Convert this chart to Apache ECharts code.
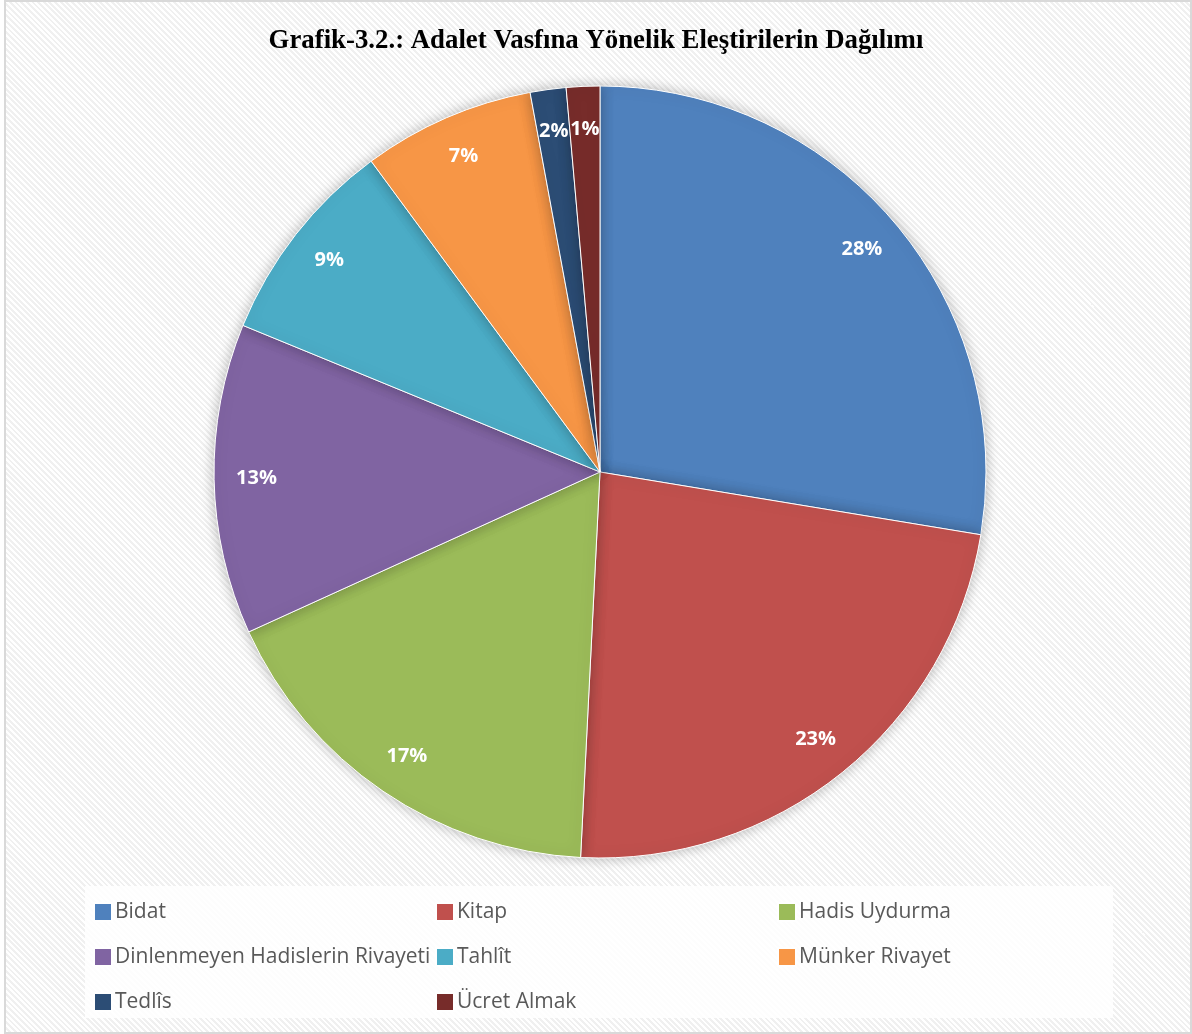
<!DOCTYPE html>
<html>
<head>
<meta charset="utf-8">
<script src="https://cdn.jsdelivr.net/npm/echarts@6/dist/echarts.min.js"></script>
<style>
  html, body { margin: 0; padding: 0; background: #ffffff; }
  #bg {
    position: absolute; left: 4px; top: 0px; width: 1184px; height: 1030px;
    border: 2px solid #d9d9d9;
    background: repeating-linear-gradient(45deg, #ffffff 0px, #ffffff 2px, #f0f0f0 2px, #f0f0f0 4px);
  }
  #chart { position: absolute; left: 0; top: 0; width: 1192px; height: 1034px; }
</style>
</head>
<body>
<div id="bg"></div>
<div id="chart"></div>
<script>
const categories = ['Bidat', 'Kitap', 'Hadis Uydurma', 'Dinlenmeyen Hadislerin Rivayeti', 'Tahlît', 'Münker Rivayet', 'Tedlîs', 'Ücret Almak'];
const values = [27.6, 23.2, 17.4, 13.0, 8.7, 7.2, 1.5, 1.4];
const colors = ['#4F81BD', '#C0504D', '#9BBB59', '#8064A2', '#4BACC6', '#F79646', '#2C4D75', '#772C2A'];
const legendColumns = [
  ['Bidat', 'Dinlenmeyen Hadislerin Rivayeti', 'Tedlîs'],
  ['Kitap', 'Tahlît', 'Ücret Almak'],
  ['Hadis Uydurma', 'Münker Rivayet']
];
const titleText = 'Grafik-3.2.: Adalet Vasfına Yönelik Eleştirilerin Dağılımı';

const data = categories.map((c, i) => ({ name: c, value: values[i], itemStyle: { color: colors[i] } }));
const legendX = [88, 430, 772];

const chart = echarts.init(document.getElementById('chart'), null, { renderer: 'canvas' });
chart.setOption({
  backgroundColor: 'transparent',
  animation: false,
  title: {
    text: titleText, left: 'center', top: 23, padding: [5, 0, 5, 8],
    textStyle: { fontFamily: 'Liberation Serif', fontWeight: 'bold', fontSize: 26.8, color: '#000' }
  },
  graphic: [{
    type: 'rect', left: 85, top: 886, shape: { width: 1028, height: 132 },
    style: { fill: 'rgba(255,255,255,0.85)' }, silent: true, z: 0
  }],
  legend: legendColumns.map((col, k) => ({
    data: col, orient: 'vertical', left: legendX[k], top: 895,
    icon: 'rect', itemWidth: 18, itemHeight: 18, itemGap: 21,
    textStyle: { fontFamily: 'Open Sans', fontSize: 21, color: '#595959', lineHeight: 24, padding: [0, 0, 0, -2] },
    selectedMode: false
  })),
  series: [
    {
      type: 'pie', center: [600, 472], radius: [0, 386], startAngle: 90, clockwise: true,
      data: data, label: { show: false }, labelLine: { show: false },
      itemStyle: { borderColor: '#ffffff', borderWidth: 1, shadowBlur: 14, shadowColor: 'rgba(0,0,0,0.28)' },
      silent: true, z: 2
    },
    {
      type: 'pie', center: [600, 472], radius: [295, 386], startAngle: 90, clockwise: true,
      data: categories.map((c, i) => ({ name: c, value: values[i] })),
      itemStyle: { color: 'rgba(0,0,0,0)' },
      label: {
        show: true, position: 'inside',
        formatter: p => Math.round(p.value) + '%',
        fontFamily: 'Open Sans', fontWeight: 'bold', fontSize: 20, color: '#ffffff'
      },
      labelLine: { show: false }, silent: true, z: 3
    }
  ]
});
</script>
</body>
</html>
